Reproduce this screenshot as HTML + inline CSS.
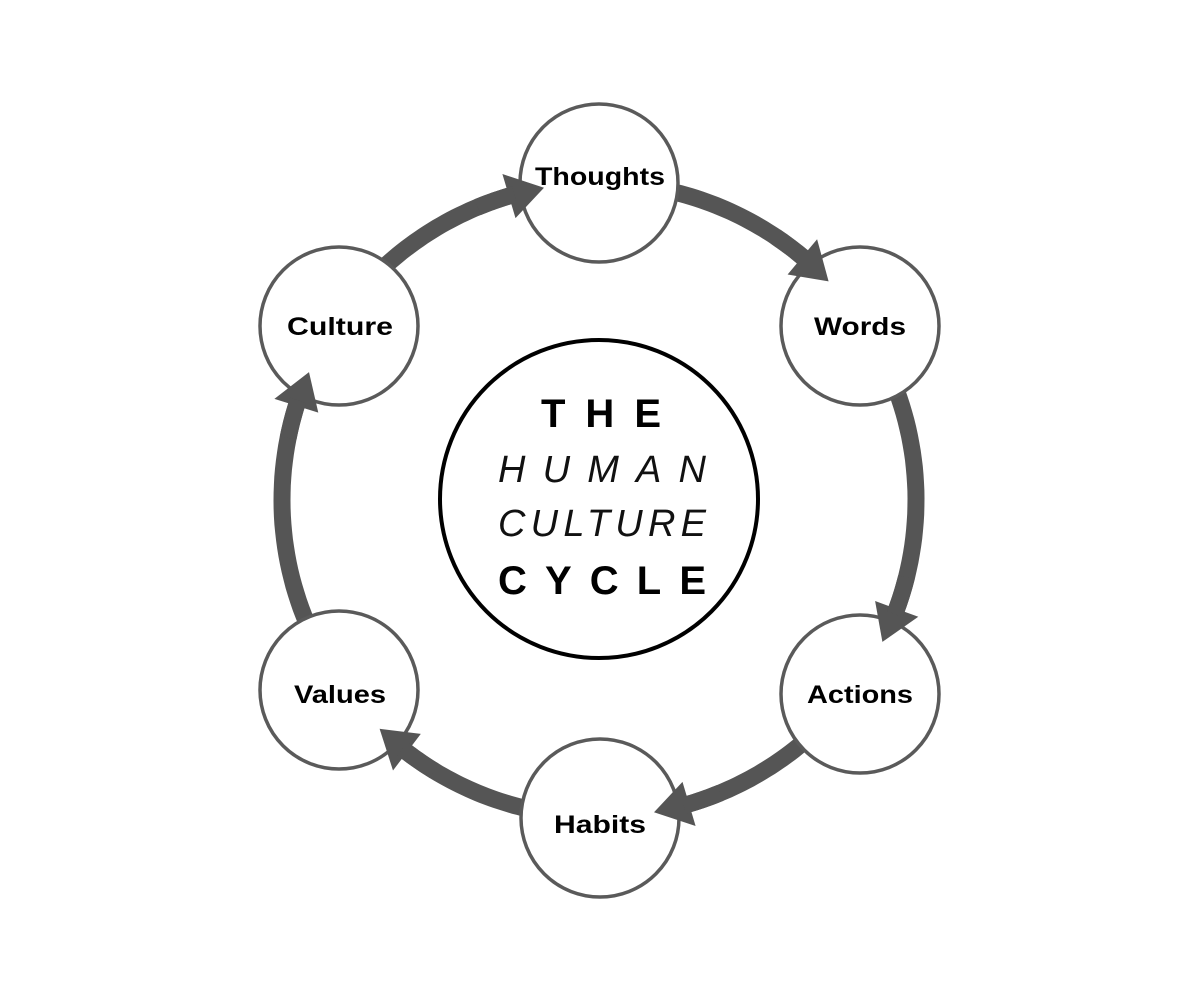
<!DOCTYPE html>
<html><head><meta charset="utf-8"><style>
html,body{margin:0;padding:0;background:#fff}
svg{display:block}
</style></head><body>
<svg id="s" width="1200" height="1000" viewBox="0 0 1200 1000" xmlns="http://www.w3.org/2000/svg">
<g id="arrows" fill="#555"></g>
<g fill="#fff" stroke="#5a5a5a" stroke-width="3.5">
<circle cx="599" cy="183" r="79"/>
<circle cx="860" cy="326" r="79"/>
<circle cx="860" cy="694" r="79"/>
<circle cx="600" cy="818" r="79"/>
<circle cx="339" cy="690" r="79"/>
<circle cx="339" cy="326" r="79"/>
</g>
<g id="heads" fill="#555"></g>
<circle cx="599" cy="499" r="159" fill="#fff" stroke="#000" stroke-width="4"/>
<g font-family="Liberation Sans, sans-serif" font-weight="bold" font-size="25" text-anchor="middle" fill="#000">
<text x="600" y="185" textLength="130" lengthAdjust="spacingAndGlyphs">Thoughts</text>
<text x="860" y="335" textLength="92" lengthAdjust="spacingAndGlyphs">Words</text>
<text x="860" y="703" textLength="106" lengthAdjust="spacingAndGlyphs">Actions</text>
<text x="600" y="833" textLength="92" lengthAdjust="spacingAndGlyphs">Habits</text>
<text x="340" y="703" textLength="92" lengthAdjust="spacingAndGlyphs">Values</text>
<text x="340" y="335" textLength="106" lengthAdjust="spacingAndGlyphs">Culture</text>
</g>
<g font-family="Liberation Sans, sans-serif" fill="#000">
<text x="541" y="427" font-size="40" font-weight="bold" textLength="120" lengthAdjust="spacing">THE</text>
<text x="498" y="482" font-size="38" font-style="italic" font-weight="300" textLength="208" lengthAdjust="spacing" fill="#111">HUMAN</text>
<text x="498" y="536" font-size="38" font-style="italic" font-weight="300" textLength="208" lengthAdjust="spacing" fill="#111">CULTURE</text>
<text x="498" y="594" font-size="40" font-weight="bold" textLength="208" lengthAdjust="spacing">CYCLE</text>
</g>
</svg>
<script>
(function(){
var cx=599,cy=500,R=317,w=17,g=document.getElementById('arrows'),gh=document.getElementById('heads');
var nodes=[-146.2,-90,-33.6,36.6,90,143.8];
var ns='http://www.w3.org/2000/svg';
function P(a,r){var t=a*Math.PI/180;return [cx+r*Math.cos(t),cy+r*Math.sin(t)];}
function s(q){return q.map(function(v){return v[0].toFixed(1)+','+v[1].toFixed(1)}).join(' ');}
for(var i=0;i<6;i++){
 var a0=nodes[i]+12, a1=nodes[(i+1)%6]; if(a1<a0)a1+=360; a1-=10;
 var ah=a1-6.5;
 var n=30,pts=[];
 for(var k=0;k<=n;k++){var a=a0+(ah+1-a0)*k/n;pts.push(P(a,R+w/2));}
 for(var k=n;k>=0;k--){var a=a0+(ah+1-a0)*k/n;pts.push(P(a,R-w/2));}
 var p=document.createElementNS(ns,'polygon');
 p.setAttribute('points',s(pts));
 g.appendChild(p);
 var o=P(ah,R+23),in_=P(ah,R-23),tip=P(a1,R);
 var h=document.createElementNS(ns,'polygon');
 h.setAttribute('points',s([o,tip,in_]));
 gh.appendChild(h);
 var p2=document.createElementNS(ns,'polygon');
 var pts2=[];
 for(var k=0;k<=10;k++){var a=ah-6+7*k/10;pts2.push(P(a,R+w/2));}
 for(var k=10;k>=0;k--){var a=ah-6+7*k/10;pts2.push(P(a,R-w/2));}
 p2.setAttribute('points',s(pts2));
 gh.appendChild(p2);
}
})();
</script>
</body></html>
